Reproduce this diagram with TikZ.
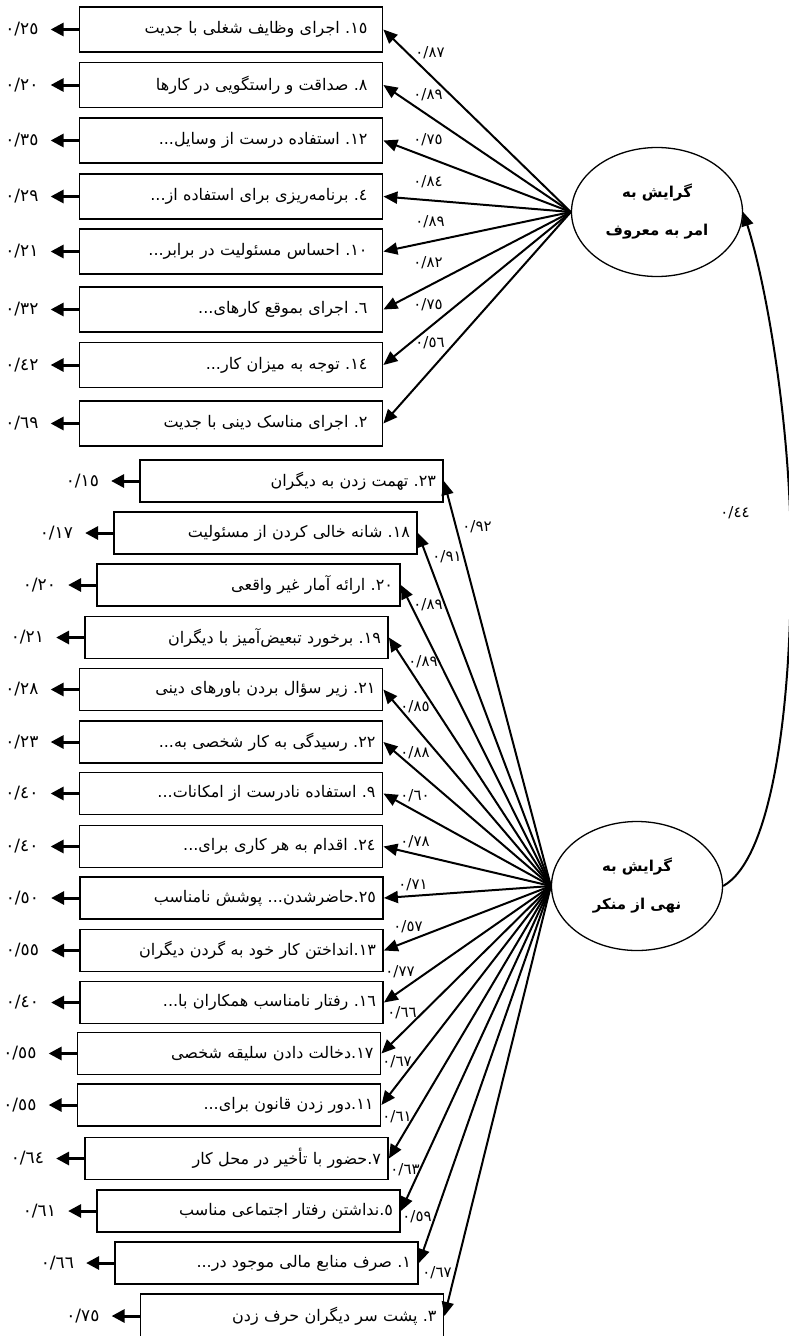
\documentclass[tikz,border=0pt]{standalone}
\usepackage{fontspec}
\newfontfamily\arabicfont[Script=Arabic]{DejaVu Sans}
\TeXXeTstate=1
\frenchspacing
\usetikzlibrary{positioning,shapes.geometric,arrows.meta}

\begin{document}
\begin{tikzpicture}[x=1pt,y=-1pt,
    item/.style ={draw, line width=1.8pt, text width=273pt, inner xsep=15pt, minimum height=45pt, align=right, font=\arabicfont\fontsize{16}{18}\selectfont},
    itemb/.style ={item, text width=289pt, inner xsep=7pt, minimum height=42pt},
    latent/.style ={ellipse, draw, line width=1.3pt, minimum width=171pt, minimum height=129pt, align=center, font=\arabicfont\bfseries\fontsize{15}{38}\selectfont},
    err/.style ={inner xsep=12pt, inner ysep=2pt, font=\arabicfont\fontsize{17}{19}\selectfont},
    load/.style ={inner sep=0pt, font=\arabicfont\fontsize{15}{17}\selectfont},
    loading/.style ={line width=2pt, -{Triangle[length=14pt,width=12pt]}},
    resid/.style ={line width=3pt, -{Triangle[length=13pt,width=13pt]}}]
   \useasboundingbox (0,0) rectangle (789,1336);

   % latent variables
   \node[latent] (A) at (657,212) {\beginR گرایش به\endR\\\beginR امر به معروف\endR};
   \node[latent] (B) at (637,886) {\beginR گرایش به\endR\\\beginR نهی از منکر\endR};

   % items of the first factor
   \node[item] (m1) at (231,29.5) {\beginR ١٥. اجرای وظایف شغلی با جدیت\endR};
   \node[item] (m2) at (231,85) {\beginR ٨. صداقت و راستگویی در کارها\endR};
   \node[item] (m3) at (231,140.5) {\beginR ١٢. استفاده درست از وسایل...\endR};
   \node[item] (m4) at (231,196.5) {\beginR ٤. برنامه‌ریزی برای استفاده از...\endR};
   \node[item] (m5) at (231,251.5) {\beginR ١٠. احساس مسئولیت در برابر...\endR};
   \node[item] (m6) at (231,309.5) {\beginR ٦. اجرای بموقع کارهای...\endR};
   \node[item] (m7) at (231,365) {\beginR ١٤. توجه به میزان کار...\endR};
   \node[item] (m8) at (231,423.5) {\beginR ٢. اجرای مناسک دینی با جدیت\endR};

   % items of the second factor
   \node[itemb] (n1) at (291.5,481) {\beginR ٢٣. تهمت زدن به دیگران\endR};
   \node[itemb] (n2) at (265.5,533) {\beginR ١٨. شانه خالی کردن از مسئولیت\endR};
   \node[itemb] (n3) at (248.5,585) {\beginR ٢٠. ارائه آمار غیر واقعی\endR};
   \node[itemb] (n4) at (236.5,637.5) {\beginR ١٩. برخورد تبعیض‌آمیز با دیگران\endR};
   \node[itemb] (n5) at (231,689.5) {\beginR ٢١. زیر سؤال بردن باورهای دینی\endR};
   \node[itemb] (n6) at (231,742) {\beginR ٢٢. رسیدگی به کار شخصی به...\endR};
   \node[itemb] (n7) at (231,793.5) {\beginR ٩. استفاده نادرست از امکانات...\endR};
   \node[itemb] (n8) at (231,846.5) {\beginR ٢٤. اقدام به هر کاری برای...\endR};
   \node[itemb] (n9) at (231.5,898) {\beginR ٢٥.حاضرشدن... پوشش نامناسب\endR};
   \node[itemb] (n10) at (231.5,950.5) {\beginR ١٣.انداختن کار خود به گردن دیگران\endR};
   \node[itemb] (n11) at (231.5,1002.5) {\beginR ١٦. رفتار نامناسب همکاران با...\endR};
   \node[itemb] (n12) at (229,1053.5) {\beginR ١٧.دخالت دادن سلیقه شخصی\endR};
   \node[itemb] (n13) at (229,1105) {\beginR ١١.دور زدن قانون برای...\endR};
   \node[itemb] (n14) at (236.5,1158.5) {\beginR ٧.حضور با تأخیر در محل کار\endR};
   \node[itemb] (n15) at (248.5,1211) {\beginR ٥.نداشتن رفتار اجتماعی مناسب\endR};
   \node[itemb] (n16) at (266.5,1263) {\beginR ١. صرف منابع مالی موجود در...\endR};
   \node[itemb, minimum height=44pt] (n17) at (292,1316) {\beginR ٣. پشت سر دیگران حرف زدن\endR};

   % error variances
   \node[err, left=28pt of m1] (em1) {٠/٢٥};
   \node[err, left=28pt of m2] (em2) {٠/٢٠};
   \node[err, left=28pt of m3] (em3) {٠/٣٥};
   \node[err, left=28pt of m4] (em4) {٠/٢٩};
   \node[err, left=28pt of m5] (em5) {٠/٢١};
   \node[err, left=28pt of m6] (em6) {٠/٣٢};
   \node[err, left=28pt of m7] (em7) {٠/٤٢};
   \node[err, left=28pt of m8] (em8) {٠/٦٩};
   \node[err, left=28pt of n1] (en1) {٠/١٥};
   \node[err, left=28pt of n2] (en2) {٠/١٧};
   \node[err, left=28pt of n3] (en3) {٠/٢٠};
   \node[err, left=28pt of n4] (en4) {٠/٢١};
   \node[err, left=28pt of n5] (en5) {٠/٢٨};
   \node[err, left=28pt of n6] (en6) {٠/٢٣};
   \node[err, left=28pt of n7] (en7) {٠/٤٠};
   \node[err, left=28pt of n8] (en8) {٠/٤٠};
   \node[err, left=28pt of n9] (en9) {٠/٥٠};
   \node[err, left=28pt of n10] (en10) {٠/٥٥};
   \node[err, left=28pt of n11] (en11) {٠/٤٠};
   \node[err, left=28pt of n12] (en12) {٠/٥٥};
   \node[err, left=28pt of n13] (en13) {٠/٥٥};
   \node[err, left=28pt of n14] (en14) {٠/٦٤};
   \node[err, left=28pt of n15] (en15) {٠/٦١};
   \node[err, left=28pt of n16] (en16) {٠/٦٦};
   \node[err, left=28pt of n17] (en17) {٠/٧٥};

   \draw[resid] (m1.west) to (em1.east);
   \draw[resid] (m2.west) to (em2.east);
   \draw[resid] (m3.west) to (em3.east);
   \draw[resid] (m4.west) to (em4.east);
   \draw[resid] (m5.west) to (em5.east);
   \draw[resid] (m6.west) to (em6.east);
   \draw[resid] (m7.west) to (em7.east);
   \draw[resid] (m8.west) to (em8.east);
   \draw[resid] (n1.west) to (en1.east);
   \draw[resid] (n2.west) to (en2.east);
   \draw[resid] (n3.west) to (en3.east);
   \draw[resid] (n4.west) to (en4.east);
   \draw[resid] (n5.west) to (en5.east);
   \draw[resid] (n6.west) to (en6.east);
   \draw[resid] (n7.west) to (en7.east);
   \draw[resid] (n8.west) to (en8.east);
   \draw[resid] (n9.west) to (en9.east);
   \draw[resid] (n10.west) to (en10.east);
   \draw[resid] (n11.west) to (en11.east);
   \draw[resid] (n12.west) to (en12.east);
   \draw[resid] (n13.west) to (en13.east);
   \draw[resid] (n14.west) to (en14.east);
   \draw[resid] (n15.west) to (en15.east);
   \draw[resid] (n16.west) to (en16.east);
   \draw[resid] (n17.west) to (en17.east);

   % loadings
   \draw[loading] (A.west) to (m1.east);
   \draw[loading] (A.west) to (m2.east);
   \draw[loading] (A.west) to (m3.east);
   \draw[loading] (A.west) to (m4.east);
   \draw[loading] (A.west) to (m5.east);
   \draw[loading] (A.west) to (m6.east);
   \draw[loading] (A.west) to (m7.east);
   \draw[loading] (A.west) to (m8.east);
   \draw[loading] (B.west) to (n1.east);
   \draw[loading] (B.west) to (n2.east);
   \draw[loading] (B.west) to (n3.east);
   \draw[loading] (B.west) to (n4.east);
   \draw[loading] (B.west) to (n5.east);
   \draw[loading] (B.west) to (n6.east);
   \draw[loading] (B.west) to (n7.east);
   \draw[loading] (B.west) to (n8.east);
   \draw[loading] (B.west) to (n9.east);
   \draw[loading] (B.west) to (n10.east);
   \draw[loading] (B.west) to (n11.east);
   \draw[loading] (B.west) to (n12.east);
   \draw[loading] (B.west) to (n13.east);
   \draw[loading] (B.west) to (n14.east);
   \draw[loading] (B.west) to (n15.east);
   \draw[loading] (B.west) to (n16.east);
   \draw[loading] (B.west) to (n17.east);

   \node[load] (lm1) at (430,53) {٠/٨٧};
   \node[load] (lm2) at (428,95) {٠/٨٩};
   \node[load] (lm3) at (428,140) {٠/٧٥};
   \node[load] (lm4) at (428,182) {٠/٨٤};
   \node[load] (lm5) at (430,222) {٠/٨٩};
   \node[load] (lm6) at (428,263) {٠/٨٢};
   \node[load] (lm7) at (428,305) {٠/٧٥};
   \node[load] (lm8) at (430,343) {٠/٥٦};
   \node[load] (ln1) at (477,527) {٠/٩٢};
   \node[load] (ln2) at (447,557) {٠/٩١};
   \node[load] (ln3) at (428,605) {٠/٨٩};
   \node[load] (ln4) at (423,662) {٠/٨٩};
   \node[load] (ln5) at (415,707) {٠/٨٥};
   \node[load] (ln6) at (415,753) {٠/٨٨};
   \node[load] (ln7) at (415,796) {٠/٦٠};
   \node[load] (ln8) at (415,842) {٠/٧٨};
   \node[load] (ln9) at (413,885) {٠/٧١};
   \node[load] (ln10) at (408,927) {٠/٥٧};
   \node[load] (ln11) at (400,972) {٠/٧٧};
   \node[load] (ln12) at (402,1013) {٠/٦٦};
   \node[load] (ln13) at (397,1062) {٠/٦٧};
   \node[load] (ln14) at (397,1117) {٠/٦١};
   \node[load] (ln15) at (405,1170) {٠/٦٣};
   \node[load] (ln16) at (417,1217) {٠/٥٩};
   \node[load] (ln17) at (437,1273) {٠/٦٧};

   % correlation
   \draw[loading] (B.east) .. controls (770,860) and (791,720) .. (791,560)
      .. controls (791,420) and (765,280) .. (A.east);
   \node[load] (r) at (735,513) {٠/٤٤};

\end{tikzpicture}
\end{document}
